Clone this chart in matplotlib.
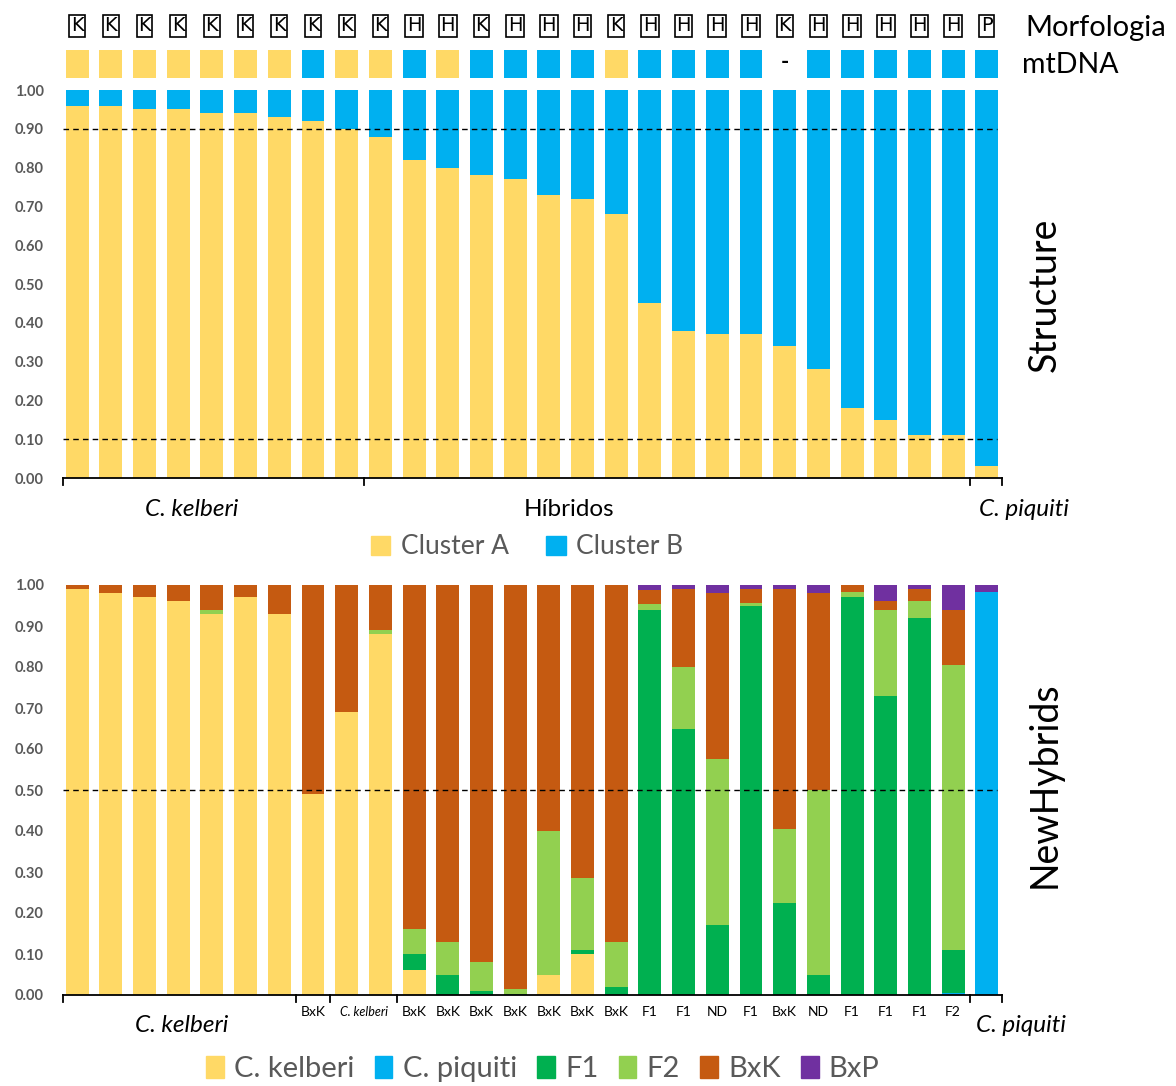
import numpy as np
import matplotlib
matplotlib.use("Agg")
import matplotlib.pyplot as plt
from matplotlib.patches import Patch
import matplotlib.transforms as mtrans

plt.rcParams['font.family'] = ['Lato', 'DejaVu Sans']

# ---- data ----
morfologia = list("KKKKKKKKKKHHKHHHKHHHHKHHHHHP")
mtdna = ['A'] * 7 + ['B'] + ['A', 'A'] + ['B'] + ['A'] + ['B'] * 4 + ['A'] + ['B'] * 4 + ['-'] + ['B'] * 6

cluster_a = [0.96, 0.96, 0.95, 0.95, 0.94, 0.94, 0.93, 0.92, 0.90, 0.88, 0.82, 0.80, 0.78, 0.77,
             0.73, 0.72, 0.68, 0.45, 0.38, 0.37, 0.37, 0.34, 0.28, 0.18, 0.15, 0.11, 0.11, 0.03]
cluster_b = [1 - v for v in cluster_a]

nh_kelberi = [0.99, 0.98, 0.97, 0.96, 0.93, 0.97, 0.93, 0.49, 0.69, 0.88,
              0.06, 0, 0, 0, 0.05, 0.10, 0,
              0, 0, 0, 0, 0, 0, 0, 0, 0, 0, 0]
nh_piquiti = [0] * 26 + [0.005, 0.983]
nh_f1 = [0] * 10 + [0.04, 0.05, 0.01, 0.003, 0, 0.01, 0.02,
                    0.94, 0.65, 0.17, 0.95, 0.225, 0.05, 0.97, 0.73, 0.92, 0.105, 0]
nh_f2 = [0, 0, 0, 0, 0.01, 0, 0, 0, 0, 0.01,
         0.06, 0.08, 0.07, 0.012, 0.35, 0.175, 0.11,
         0.013, 0.15, 0.405, 0.007, 0.18, 0.45, 0.013, 0.21, 0.04, 0.695, 0]
nh_bxk = [0.01, 0.02, 0.03, 0.04, 0.06, 0.03, 0.07, 0.51, 0.31, 0.11,
          0.84, 0.87, 0.92, 0.985, 0.60, 0.715, 0.87,
          0.035, 0.19, 0.405, 0.033, 0.585, 0.48, 0.017, 0.02, 0.03, 0.135, 0]
nh_bxp = [0] * 17 + [0.012, 0.01, 0.02, 0.01, 0.01, 0.02, 0, 0.04, 0.01, 0.06, 0.017]

nh_bar_labels = ['BxK'] * 7 + ['F1', 'F1', 'ND', 'F1', 'BxK', 'ND', 'F1', 'F1', 'F1', 'F2']

YEL = '#FFD966'
BLU = '#00B0F0'
GRN = '#00B050'
LGR = '#92D050'
ORA = '#C55A11'
PUR = '#7030A0'
GRAY = '#595959'

n = len(cluster_a)
x = np.arange(n)
bw = 0.68

fig = plt.figure(figsize=(11.76, 10.86), dpi=100)
W, H = 1176, 1086


def axes_px(left, right, top, bottom):
    return fig.add_axes([left / W, 1 - bottom / H, (right - left) / W, (bottom - top) / H])


def style_axis(ax, bounds):
    ax.set_xlim(-0.42, 27.45)
    ax.set_ylim(0, 1)
    for s in ['top', 'right', 'left']:
        ax.spines[s].set_visible(False)
    ax.spines['bottom'].set_linewidth(1.3)
    ax.set_xticks([])
    ax.set_yticks(np.arange(0, 1.01, 0.1))
    ax.set_yticklabels([f"{v:.2f}" for v in np.arange(0, 1.01, 0.1)],
                       fontsize=10.5, fontweight='bold', color=GRAY)
    ax.tick_params(axis='y', length=0, pad=14)
    trans = mtrans.blended_transform_factory(ax.transData, ax.transAxes)
    for b in bounds:
        ax.plot([b, b], [0, -0.018], color='black', lw=1.3, transform=trans, clip_on=False)
    return trans


# ---- Structure ----
ax1 = axes_px(63, 1002, 90, 478)
ax1.bar(x, cluster_a, bw, color=YEL, label='Cluster A')
ax1.bar(x, cluster_b, bw, bottom=cluster_a, color=BLU, label='Cluster B')
for yv in (0.9, 0.1):
    ax1.axhline(yv, xmin=0.0, xmax=0.995, color='black', ls=(0, (4, 3)), lw=1)
t1 = style_axis(ax1, [-0.42, 8.5, 26.5, 27.45])

# header rows
for i, (m, d) in enumerate(zip(morfologia, mtdna)):
    ax1.text(i, 1.165, m, ha='center', va='center', fontsize=14, family='DejaVu Sans',
             bbox=dict(boxstyle='square,pad=0.08', fc='white', ec='black', lw=1.2), clip_on=False)
    if d == '-':
        ax1.text(i, 1.07, '-', ha='center', va='center', fontsize=16, fontweight='bold', clip_on=False)
    else:
        ax1.bar(i, 0.072, bw, bottom=1.031, color=YEL if d == 'A' else BLU, clip_on=False)

lab_y = -0.08
ax1.text(3.4, lab_y, 'C. kelberi', style='italic', fontsize=17.5, ha='center', va='center', transform=t1)
ax1.text(14.6, lab_y, 'Híbridos', fontsize=17.5, ha='center', va='center', transform=t1)
ax1.text(28.1, lab_y, 'C. piquiti', style='italic', fontsize=17.5, ha='center', va='center', transform=t1)

fig.text(1025 / W, 1 - 28 / H, 'Morfologia', fontsize=21, va='center', ha='left')
fig.text(1022 / W, 1 - 65 / H, 'mtDNA', fontsize=20.5, va='center', ha='left')
fig.text(1045 / W, 1 - 295 / H, 'Structure', fontsize=27, rotation=90, va='center', ha='center')

leg1 = fig.legend(handles=[Patch(color=YEL), Patch(color=BLU)], labels=['Cluster A', 'Cluster B'],
                  loc='center', bbox_to_anchor=(527 / W, 1 - 547 / H), ncol=2, frameon=False,
                  fontsize=19, handlelength=0.75, handleheight=0.75, handletextpad=0.4,
                  columnspacing=1.4)
for t in leg1.get_texts():
    t.set_color(GRAY)

# ---- NewHybrids ----
ax2 = axes_px(63, 1002, 585, 995)
bottom = np.zeros(n)
series = [(nh_kelberi, YEL, 'C. kelberi'), (nh_piquiti, BLU, 'C. piquiti'), (nh_f1, GRN, 'F1'),
          (nh_f2, LGR, 'F2'), (nh_bxk, ORA, 'BxK'), (nh_bxp, PUR, 'BxP')]
for vals, col, lab in series:
    ax2.bar(x, vals, bw, bottom=bottom, color=col, label=lab)
    bottom += np.array(vals)
ax2.axhline(0.5, xmin=0.0, xmax=0.995, color='black', ls=(0, (4, 3)), lw=1)
t2 = style_axis(ax2, [-0.42, 6.5, 7.5, 9.5, 26.5, 27.45])

ax2.text(7, -0.042, 'BxK', fontsize=10, ha='center', va='center', transform=t2)
ax2.text(8.5, -0.042, 'C. kelberi', fontsize=9, style='italic', ha='center', va='center', transform=t2)
for i, lab in enumerate(nh_bar_labels):
    ax2.text(10 + i, -0.042, lab, fontsize=10, ha='center', va='center', transform=t2)
ax2.text(3.1, -0.075, 'C. kelberi', style='italic', fontsize=17.5, ha='center', va='center', transform=t2)
ax2.text(28.0, -0.075, 'C. piquiti', style='italic', fontsize=17.5, ha='center', va='center', transform=t2)

fig.text(1045 / W, 1 - 785 / H, 'NewHybrids', fontsize=27, rotation=90, va='center', ha='center')

leg2 = fig.legend(handles=[Patch(color=c) for _, c, _ in series], labels=[l for _, _, l in series],
                  loc='center', bbox_to_anchor=(543 / W, 1 - 1069 / H), ncol=6, frameon=False,
                  fontsize=21, handlelength=0.6, handleheight=0.8, handletextpad=0.35,
                  columnspacing=0.7)
for t in leg2.get_texts():
    t.set_color(GRAY)

fig.savefig('out.png', dpi=100)
